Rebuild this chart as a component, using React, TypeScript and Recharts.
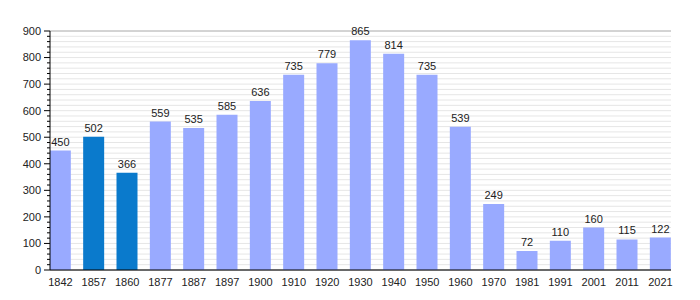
import React from "react";
import {
  BarChart,
  Bar,
  XAxis,
  YAxis,
  CartesianGrid,
  Cell,
  LabelList,
} from "recharts";

const years = [
  "1842", "1857", "1860", "1877", "1887", "1897", "1900", "1910", "1920", "1930",
  "1940", "1950", "1960", "1970", "1981", "1991", "2001", "2011", "2021",
];
const population = [
  450, 502, 366, 559, 535, 585, 636, 735, 779, 865, 814, 735, 539, 249, 72, 110,
  160, 115, 122,
];
const highlighted = ["1857", "1860"];

const majorTicks = [0, 100, 200, 300, 400, 500, 600, 700, 800, 900];
const minorTicks = Array.from({ length: 46 }, (_, i) => i * 20);

const data = years.map((year, i) => ({ idx: i, year, value: population[i] }));

const font = "'Liberation Sans', Arial, sans-serif";

const YTick = (props: any) => {
  const { x, y, payload } = props;
  const major = payload.value % 100 === 0;
  return (
    <g>
      <line x1={x - (major ? 6 : 3)} x2={x} y1={y} y2={y} stroke="#000" />
      {major && (
        <text
          x={x - 9}
          y={y}
          dy="0.35em"
          textAnchor="end"
          fontSize={11}
          fontFamily={font}
          fill="#222"
        >
          {payload.value}
        </text>
      )}
    </g>
  );
};

export default function App() {
  return (
    <BarChart
      width={684}
      height={292}
      data={data}
      margin={{ top: 23, right: 21, left: 0, bottom: 0 }}
    >
      <CartesianGrid yAxisId="axis" vertical={false} stroke="#e6e6e6" />
      <CartesianGrid yAxisId="major" vertical={false} stroke="#b4b4b4" />
      <XAxis
        dataKey="idx"
        type="number"
        domain={[-0.315, 18.315]}
        allowDataOverflow
        ticks={years.map((_, i) => i)}
        interval={0}
        tickFormatter={(i: number) => years[i]}
        tickLine={false}
        axisLine={{ stroke: "#000" }}
        height={30}
        tick={{ fontSize: 11, fontFamily: font, fill: "#222" }}
      />
      <YAxis
        yAxisId="major"
        hide
        domain={[0, 900]}
        ticks={majorTicks}
      />
      <YAxis
        yAxisId="axis"
        domain={[0, 900]}
        ticks={minorTicks}
        interval={0}
        width={42}
        tickSize={0}
        tickMargin={0}
        tickLine={false}
        axisLine={{ stroke: "#000" }}
        tick={<YTick />}
      />
      <Bar
        yAxisId="axis"
        dataKey="value"
        barSize={21}
        isAnimationActive={false}
      >
        {data.map((d) => (
          <Cell
            key={d.year}
            fill={highlighted.includes(d.year) ? "#0a7acc" : "#99aaff"}
          />
        ))}
        <LabelList
          dataKey="value"
          position="top"
          fontSize={11}
          fontFamily={font}
          fill="#222"
        />
      </Bar>
    </BarChart>
  );
}
